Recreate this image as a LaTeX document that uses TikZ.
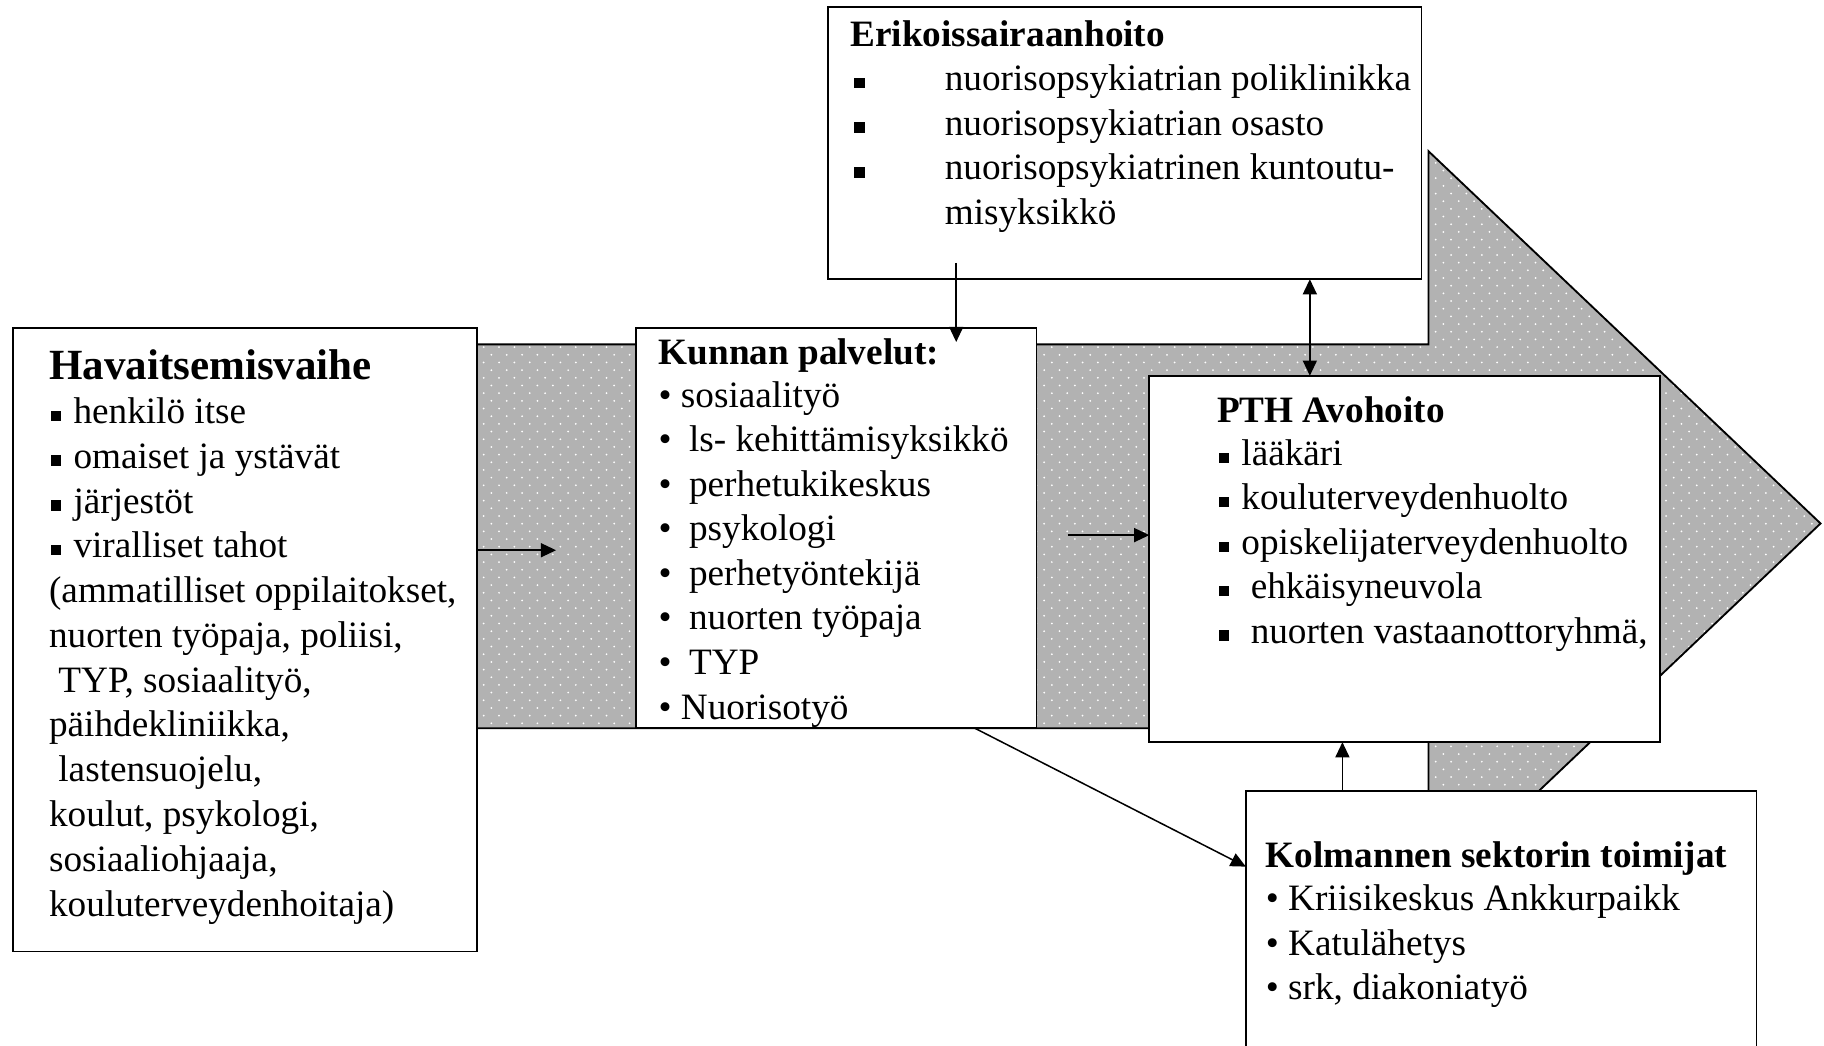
\documentclass[tikz,border=0pt]{standalone}
\usepackage{fontspec}
\setmainfont{Liberation Serif}
\usetikzlibrary{arrows.meta,patterns.meta}
\tikzdeclarepattern{name=wdots,type=uncolored,bottom left={(-1.5pt,-1.5pt)},top right={(8.1pt,8.1pt)},tile size={(13.2pt,13.2pt)},code={\pgfpathcircle{\pgfpointorigin}{0.85pt}\pgfpathcircle{\pgfpoint{6.6pt}{6.6pt}}{0.85pt}\pgfusepath{fill}}}
\newcommand\sqb{\makebox[21pt][l]{\hspace{1.5pt}\rule[2pt]{9pt}{9pt}}}
\newcommand\sqbw{\makebox[79pt][l]{\hspace{1pt}\rule[2pt]{9pt}{9pt}}}
\begin{document}
\begin{tikzpicture}[x=1pt,y=-1pt,
  box/.style={draw=black,line width=1.6pt,fill=white,inner sep=0pt,outer sep=0pt},
  txt/.style={inner sep=0pt,anchor=base west,font=\fontsize{32}{38}\selectfont},
  ttl/.style={inner sep=0pt,anchor=base west,font=\fontsize{32}{38}\selectfont\bfseries},
  arr/.style={line width=1.3pt,-{Triangle[length=13pt,width=12pt]}},
  arrtwo/.style={line width=1.3pt,{Triangle[length=13pt,width=12pt]}-{Triangle[length=13pt,width=12pt]}}]

\fill[white] (0,0) rectangle (1568,899);
\useasboundingbox (0,0) rectangle (1568,899);
\clip (0,0) rectangle (1568,899);

% big arrow band
\path[fill=black!30,postaction={pattern=wdots,pattern color=white},postaction={draw=black,line width=1.6pt,line join=miter}]
  (300,296) -- (1228,296) -- (1228,130) -- (1565,450) -- (1228,770) -- (1228,626) -- (300,626) -- cycle;

% boxes
\node[box,minimum width=399pt,minimum height=536pt] (hav) at (210.5,550) {};
\node[box,minimum width=344pt,minimum height=344pt] (kun) at (719,454) {};
\node[box,minimum width=510pt,minimum height=234pt] (erik) at (967,123) {};
\node[box,minimum width=439pt,minimum height=315pt] (pth) at (1207.5,480.5) {};
\node[box,minimum width=439pt,minimum height=230pt] (kol) at (1290.5,795) {};

% Havaitsemisvaihe text
\node[inner sep=0pt,anchor=base west,font=\fontsize{37}{44}\selectfont\bfseries] (havT) at (42,326) {Havaitsemisvaihe};
\foreach \t [count=\i from 0] in {{\sqb henkilö itse},{\sqb omaiset ja ystävät},{\sqb järjestöt},{\sqb viralliset tahot},{(ammatilliset oppilaitokset,},{nuorten työpaja, poliisi,},{\hspace{0.25em}TYP, sosiaalityö,},{päihdekliniikka,},{\hspace{0.25em}lastensuojelu,},{koulut, psykologi,},{sosiaaliohjaaja,},{kouluterveydenhoitaja)}}
  \node[txt] (hav\i) at (42,{364+\i*38.5}) {\t};

% Kunnan palvelut text
\node[ttl] (kunT) at (566,313) {Kunnan palvelut:};
\foreach \t [count=\i from 0] in {{• sosiaalityö},{•\hspace{7pt} ls- kehittämisyksikkö},{•\hspace{7pt} perhetukikeskus},{•\hspace{7pt} psykologi},{•\hspace{7pt} perhetyöntekijä},{•\hspace{7pt} nuorten työpaja},{•\hspace{7pt} TYP},{• Nuorisotyö}}
  \node[txt] (kun\i) at (566,{350+\i*38.3}) {\t};

% Erikoissairaanhoito text
\node[ttl] (erikT) at (731,40) {Erikoissairaanhoito};
\foreach \t [count=\i from 0] in {{\sqbw nuorisopsykiatrian poliklinikka},{\sqbw nuorisopsykiatrian osasto},{\sqbw nuorisopsykiatrinen kuntoutu-},{\hspace{79pt}misyksikkö}}
  \node[txt] (erik\i) at (733,{78+\i*38.3}) {\t};

% PTH Avohoito text
\node[ttl] (pthT) at (1046,363) {PTH Avohoito};
\foreach \t [count=\i from 0] in {{\sqb lääkäri},{\sqb kouluterveydenhuolto},{\sqb opiskelijaterveydenhuolto},{\sqb\hspace{8pt}ehkäisyneuvola},{\sqb\hspace{8pt}nuorten vastaanottoryhmä,}}
  \node[txt] (pth\i) at (1046,{400+\i*38.25}) {\t};

% Kolmannen sektorin toimijat text
\node[ttl] (kolT) at (1088,746) {Kolmannen sektorin toimijat};
\foreach \t [count=\i from 0] in {{• Kriisikeskus Ankkurpaikk},{• Katulähetys},{• srk, diakoniatyö}}
  \node[txt] (kol\i) at (1088,{783+\i*38}) {\t};

% connectors
\coordinate (a1) at (478,473);
\draw[arr] (hav.east |- a1) -- (a1);
\coordinate (a2) at (918,460);
\draw[arr] (a2) -- (a2 -| pth.west);
\coordinate (a3s) at (822,226);
\coordinate (a3e) at (822,294);
\draw[arr] (a3s) -- (a3e);
\coordinate (a4) at (1126,0);
\draw[arrtwo] (erik.south -| a4) -- (pth.north -| a4);
\coordinate (a5) at (1154,0);
\draw[arr] (kol.north -| a5) -- (pth.south -| a5);
\coordinate (a6s) at (838,0);
\coordinate (a6e) at (0,745);
\draw[arr] (kun.south -| a6s) -- (kol.west |- a6e);
\end{tikzpicture}
\end{document}
